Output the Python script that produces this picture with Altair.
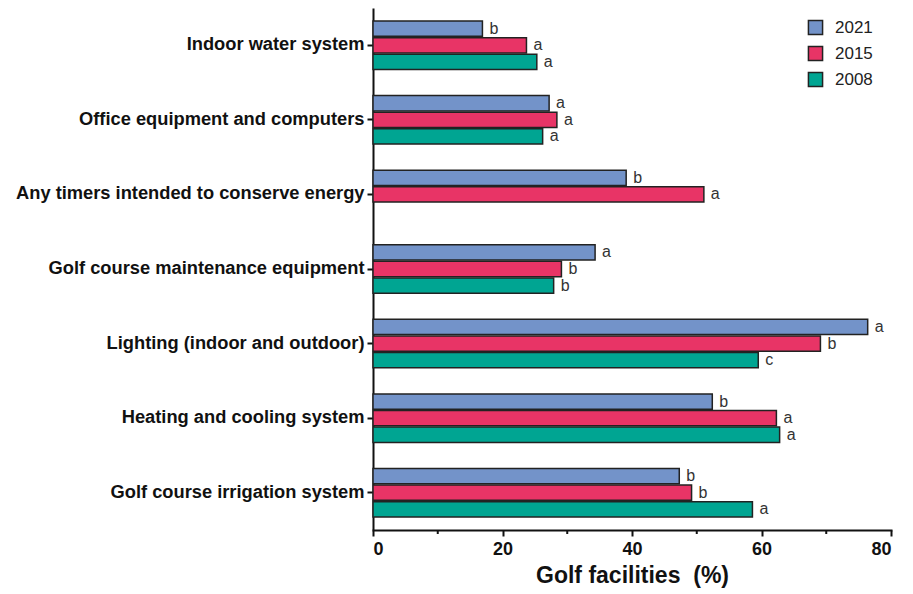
import altair as alt
import pandas as pd

# Share of golf facilities reporting each energy-use area, by survey year
facilities = [
    "Indoor water system",
    "Office equipment and computers",
    "Any timers intended to conserve energy",
    "Golf course maintenance equipment",
    "Lighting (indoor and outdoor)",
    "Heating and cooling system",
    "Golf course irrigation system",
]
years = ["2021", "2015", "2008"]

pct_2021 = [16.9, 27.2, 39.1, 34.3, 76.4, 52.4, 47.3]
pct_2015 = [23.7, 28.4, 51.1, 29.1, 69.1, 62.3, 49.2]
pct_2008 = [25.3, 26.2, None, 27.9, 59.5, 62.8, 58.6]

sig_2021 = ["b", "a", "b", "a", "a", "b", "b"]
sig_2015 = ["a", "a", "a", "b", "b", "a", "b"]
sig_2008 = ["a", "a", None, "b", "c", "a", "a"]

colors = ["#7393C9", "#E83466", "#00A592"]
minor_ticks = [10, 30, 50, 70]

rows = []
for year, vals, sigs in zip(years, [pct_2021, pct_2015, pct_2008], [sig_2021, sig_2015, sig_2008]):
    for fac, v, s in zip(facilities, vals, sigs):
        if v is not None:
            rows.append({"facility": fac, "year": year, "value": v, "sig": s})
df = pd.DataFrame(rows)

W, H = 518, 522
FONT = "Liberation Sans"

y_enc = alt.Y(
    "facility:N",
    sort=facilities,
    scale=alt.Scale(paddingInner=0.35, paddingOuter=0.175),
    axis=alt.Axis(
        title=None,
        labelFont=FONT,
        labelFontSize=18.3,
        labelFontWeight="bold",
        labelColor="#111111",
        labelPadding=3,
        labelLimit=420,
        tickSize=6,
        tickWidth=2,
        tickColor="#111111",
        domainColor="#111111",
        domainWidth=2,
    ),
)
yoff_enc = alt.YOffset(
    "year:N", sort=years, scale=alt.Scale(domain=years, paddingInner=0.08)
)
x_enc = alt.X(
    "value:Q",
    scale=alt.Scale(domain=[0, 80], nice=False),
    axis=alt.Axis(
        title="Golf facilities\u00a0\u00a0(%)",
        values=[0, 20, 40, 60, 80],
        grid=False,
        labelFont=FONT,
        labelFontSize=18,
        labelFontWeight="bold",
        labelColor="#111111",
        labelPadding=4,
        tickSize=6,
        tickWidth=2,
        tickColor="#111111",
        domainColor="#111111",
        domainWidth=2,
        titleFont=FONT,
        titleFontSize=23,
        titleFontWeight="bold",
        titleColor="#111111",
        titlePadding=6,
    ),
)

base = alt.Chart(df).encode(y=y_enc, yOffset=yoff_enc, x=x_enc)

bars = base.mark_bar(stroke="#222222", strokeWidth=1.5).encode(
    color=alt.Color(
        "year:N",
        sort=years,
        scale=alt.Scale(domain=years, range=colors),
        legend=alt.Legend(
            title=None,
            orient="none",
            legendX=434,
            legendY=11,
            symbolType="square",
            symbolSize=200,
            symbolStrokeColor="#222222",
            symbolStrokeWidth=1.5,
            labelFont=FONT,
            labelFontSize=17,
            labelColor="#222222",
            labelOffset=11,
            rowPadding=5,
        ),
    )
)

letters = base.mark_text(
    align="left", baseline="middle", dx=7, font=FONT, fontSize=16, color="#333333"
).encode(text="sig:N")

minor = (
    alt.Chart(pd.DataFrame({"v": minor_ticks}))
    .mark_rule(color="#111111", strokeWidth=2)
    .encode(x=alt.X("v:Q"), y=alt.value(H), y2=alt.value(H + 4))
)

chart = (
    alt.layer(bars, letters, minor)
    .properties(
        width=W,
        height=H,
        autosize=alt.AutoSizeParams(type="none"),
        padding={"left": 373, "top": 8, "right": 22, "bottom": 64},
    )
    .configure_view(stroke=None)
    .configure_axisX(domainCap="square")
)

chart.save("out.html", embed_options={"renderer": "svg", "actions": False})
